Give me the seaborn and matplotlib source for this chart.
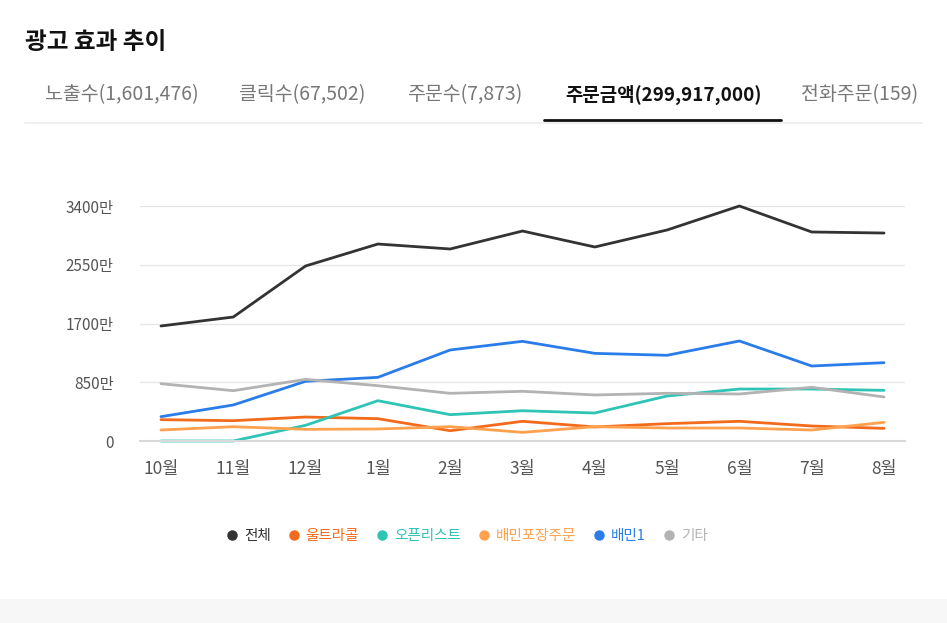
import pandas as pd
import matplotlib.pyplot as plt
import seaborn as sns
from matplotlib.lines import Line2D
from matplotlib.patches import Rectangle

# data (단위: 만원)
months = ['10월', '11월', '12월', '1월', '2월', '3월', '4월', '5월', '6월', '7월', '8월']
total = [1664, 1794, 2532, 2850, 2778, 3038, 2807, 3053, 3400, 3024, 3009]
ultracall = [309, 294, 347, 323, 149, 285, 203, 251, 285, 217, 183]
openlist = [0, 0, 227, 583, 381, 438, 405, 651, 752, 752, 733]
pickup = [159, 207, 169, 174, 207, 125, 207, 188, 188, 159, 270]
baemin1 = [352, 521, 864, 921, 1317, 1442, 1268, 1240, 1447, 1085, 1133]
etc = [829, 728, 892, 800, 690, 719, 666, 690, 680, 777, 637]

series = ['전체', '울트라콜', '오픈리스트', '배민포장주문', '배민1', '기타']
colors = ['#333333', '#f26b1d', '#2ec4b6', '#ffa14f', '#2a7de9', '#b3b3b3']
tabs = ['노출수(1,601,476)', '클릭수(67,502)', '주문수(7,873)', '주문금액(299,917,000)', '전화주문(159)']
tab_x = [45, 239, 407, 565, 801]
yticks = [0, 850, 1700, 2550, 3400]
ytick_labels = ['0', '850만', '1700만', '2550만', '3400만']

values = [total, ultracall, openlist, pickup, baemin1, etc]
rows = []
for name, vals in zip(series, values):
    for m, v in zip(months, vals):
        rows.append({'month': m, 'series': name, 'value': v})
df = pd.DataFrame(rows)

sns.set_style('white')
plt.rcParams['font.family'] = ['Noto Sans CJK KR', 'DejaVu Sans']

W, H = 947, 623
fig = plt.figure(figsize=(W / 100, H / 100), dpi=100)

# header
fig.text(25 / W, 1 - 42 / H, '광고 효과 추이', fontsize=17, fontweight='bold',
         color='#111111', va='center', ha='left')
for t, x in zip(tabs, tab_x):
    active = t.startswith('주문금액')
    fig.text(x / W, 1 - 95 / H, t, fontsize=13.6 if active else 14,
             va='center', ha='left',
             color='#111111' if active else '#777777',
             fontweight='bold' if active else 'medium')
fig.add_artist(Line2D([25 / W, 922 / W], [1 - 123 / H, 1 - 123 / H],
                      color='#eeeeee', lw=1.2))
fig.add_artist(Line2D([544 / W, 781 / W], [1 - 120 / H, 1 - 120 / H],
                      color='#111111', lw=2))
fig.add_artist(Rectangle((0, 0), 1, 24 / H, transform=fig.transFigure,
                         facecolor='#f7f7f7', edgecolor='none'))

# chart area
left, right, top, bottom = 140, 905, 206, 441
ax = fig.add_axes([left / W, 1 - bottom / H, (right - left) / W, (bottom - top) / H])
sns.lineplot(data=df, x='month', y='value', hue='series', hue_order=series,
             palette=colors, linewidth=2, ax=ax, legend=False, sort=False,
             clip_on=False)

ax.set_xlim(-0.29, 10.29)
ax.set_ylim(0, 3400)
ax.set_yticks(yticks)
ax.set_yticklabels(ytick_labels)
ax.set_xlabel('')
ax.set_ylabel('')
ax.grid(axis='y', color='#e6e6e6', lw=1)
ax.set_axisbelow(True)
for s in ['top', 'right', 'left']:
    ax.spines[s].set_visible(False)
ax.spines['bottom'].set_color('#d9d9d9')
ax.spines['bottom'].set_linewidth(1.5)
ax.tick_params(axis='y', length=0, pad=19, labelsize=11, labelcolor='#555555')
ax.tick_params(axis='x', length=0, pad=14, labelsize=12.5, labelcolor='#555555')

handles = [Line2D([], [], marker='o', linestyle='', color=c, markersize=6.5) for c in colors]
fig.legend(handles, series, loc='center', bbox_to_anchor=(467 / W, 1 - 536 / H),
           ncol=6, frameon=False, fontsize=10.5, handlelength=0.8, handletextpad=0.4,
           columnspacing=1.2, labelcolor='markerfacecolor')

plt.savefig('out.png', dpi=100)
